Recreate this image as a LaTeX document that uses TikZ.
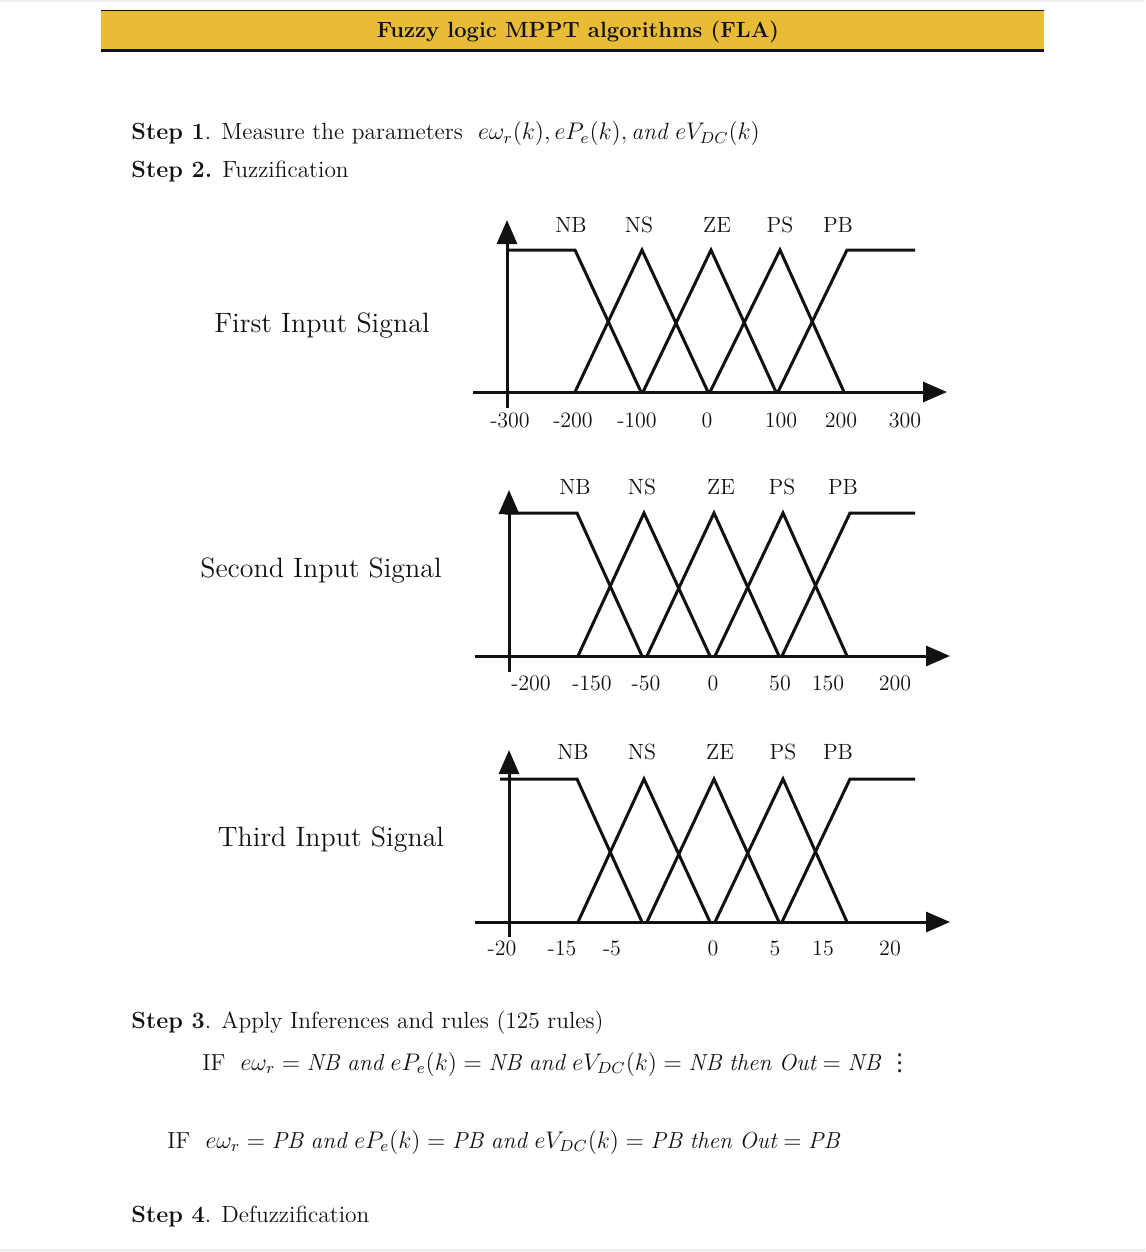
\documentclass[tikz,border=0pt]{standalone}
\usepackage{fontspec}
\usepackage{xcolor}
\usepackage{tikz}
\usetikzlibrary{arrows.meta}
\newfontfamily\symfont{DejaVu Sans}
\definecolor{ink}{HTML}{111111}
\definecolor{band}{HTML}{E8BC37}
\definecolor{edge}{HTML}{EEEEEE}
\tikzset{
  mf/.style={draw=ink, line width=1.5pt, line join=miter},
  axis/.style={draw=ink, line width=1.5pt, -{Triangle[length=12pt,width=10pt]}},
  rule/.style={draw=ink, line width=#1},
  rule/.default=1pt,
  t/.style={inner sep=0pt, font=\fontsize{11}{13}\selectfont, text=ink},
  tl/.style={t, anchor=west, font=\fontsize{11.7}{14}\selectfont},
  tif/.style={t, anchor=west, font=\fontsize{11.6}{14}\selectfont},
  tsig/.style={t, font=\fontsize{14}{17}\selectfont},
  th/.style={t, font=\fontsize{11}{13}\selectfont\bfseries},
}

\begin{document}
\begin{tikzpicture}[x=0.5pt, y=-0.5pt]
  \useasboundingbox (0,0) rectangle (1145,1252);
  \fill[edge] (0,0) rectangle (1145,2);
  \fill[edge] (0,1249) rectangle (1145,1252);

  % title band
  \fill[band] (101,11) rectangle (1044,50);
  \draw[rule=0.9pt] (101,10.5) -- (1044,10.5);
  \draw[rule=1.3pt] (101,50.5) -- (1044,50.5);
  \node[th] (title) at (578,32) {Fuzzy logic MPPT algorithms (FLA)};

  \node[tl] (step1) at (131,134) {\textbf{Step 1}. Measure the parameters\ \ $e\omega_r(k), eP_e(k), \mathit{and}\ eV_{DC}(k)$};
  \node[tl] (step2) at (131,172) {\textbf{Step 2.} Fuzzification};

  % first input signal
  \node[tsig] (sig1) at (322,326) {First Input Signal};
  \draw[axis] (507,408) -- (507,220);
  \draw[axis] (473,392) -- (947,392);
  \draw[mf] (507,250) -- (575,250) -- (641,392);
  \draw[mf] (575,392) -- (642,250) -- (708,392);
  \draw[mf] (643,392) -- (711,250) -- (776,392);
  \draw[mf] (710,392) -- (780,250) -- (844,392);
  \draw[mf] (778,392) -- (847,250) -- (915,250);
  \node[t] (nbA) at (571,225) {NB}; \node[t] (nsA) at (639,225) {NS}; \node[t] (zeA) at (717,225) {ZE}; \node[t] (psA) at (780,225) {PS}; \node[t] (pbA) at (838,225) {PB};
  \node[t] (tkA1) at (510,420) {-300}; \node[t] (tkA2) at (573,420) {-200}; \node[t] (tkA3) at (637,420) {-100}; \node[t] (tkA4) at (707,420) {0};
  \node[t] (tkA5) at (781,420) {100}; \node[t] (tkA6) at (841,420) {200}; \node[t] (tkA7) at (905,420) {300};

  % second input signal
  \node[tsig] (sig2) at (321,571) {Second Input Signal};
  \draw[axis] (509,672) -- (509,490);
  \draw[axis] (475,656) -- (950,656);
  \draw[mf] (505,513) -- (577,513) -- (642,656);
  \draw[mf] (578,656) -- (644,513) -- (710,656);
  \draw[mf] (647,656) -- (714,513) -- (779,656);
  \draw[mf] (715,656) -- (783,513) -- (847,656);
  \draw[mf] (782,656) -- (850,513) -- (915,513);
  \node[t] (nbB) at (575,487) {NB}; \node[t] (nsB) at (642,487) {NS}; \node[t] (zeB) at (721,487) {ZE}; \node[t] (psB) at (782,487) {PS}; \node[t] (pbB) at (843,487) {PB};
  \node[t] (tkB1) at (531,683) {-200}; \node[t] (tkB2) at (592,683) {-150}; \node[t] (tkB3) at (646,683) {-50}; \node[t] (tkB4) at (713,683) {0};
  \node[t] (tkB5) at (780,683) {50}; \node[t] (tkB6) at (828,683) {150}; \node[t] (tkB7) at (895,683) {200};

  % third input signal
  \node[tsig] (sig3) at (331,840) {Third Input Signal};
  \draw[axis] (509,937) -- (509,750);
  \draw[axis] (475,922) -- (950,922);
  \draw[mf] (500,779) -- (577,779) -- (642,922);
  \draw[mf] (578,922) -- (644,779) -- (710,922);
  \draw[mf] (647,922) -- (714,779) -- (779,922);
  \draw[mf] (715,922) -- (783,779) -- (847,922);
  \draw[mf] (782,922) -- (850,779) -- (915,779);
  \node[t] (nbC) at (573,752) {NB}; \node[t] (nsC) at (642,752) {NS}; \node[t] (zeC) at (720,752) {ZE}; \node[t] (psC) at (783,752) {PS}; \node[t] (pbC) at (838,752) {PB};
  \node[t] (tkC1) at (502,948) {-20}; \node[t] (tkC2) at (562,948) {-15}; \node[t] (tkC3) at (612,948) {-5}; \node[t] (tkC4) at (713,948) {0};
  \node[t] (tkC5) at (775,948) {5}; \node[t] (tkC6) at (823,948) {15}; \node[t] (tkC7) at (890,948) {20};

  \node[tl] (step3) at (131,1023) {\textbf{Step 3}. Apply Inferences and rules (125 rules)};
  \node[tif] (rule1) at (202,1064) {IF\ \ $e\omega_r = \mathit{NB}\ \mathit{and}\ eP_e(k) = \mathit{NB}\ \mathit{and}\ eV_{DC}(k) = \mathit{NB}\ \mathit{then}\ \mathit{Out} = \mathit{NB}$\ {\symfont ⋮}};
  \node[tif] (rule2) at (167,1142) {IF\ \ $e\omega_r = \mathit{PB}\ \mathit{and}\ eP_e(k) = \mathit{PB}\ \mathit{and}\ eV_{DC}(k) = \mathit{PB}\ \mathit{then}\ \mathit{Out} = \mathit{PB}$};
  \node[tl] (step4) at (131,1217) {\textbf{Step 4}. Defuzzification};
\end{tikzpicture}
\end{document}
